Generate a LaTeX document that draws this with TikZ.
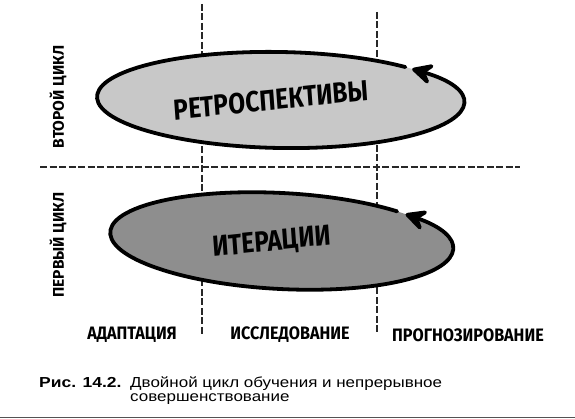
\documentclass[tikz,border=0pt]{standalone}
\usepackage{fontspec}
\setmainfont{Liberation Sans}
\newfontfamily\hand{Fira Sans}
\usetikzlibrary{arrows.meta}
\definecolor{lightfill}{RGB}{200,200,200}
\definecolor{darkfill}{RGB}{142,142,142}
\definecolor{guide}{RGB}{40,40,40}
\begin{document}
\begin{tikzpicture}[x=1pt,y=1pt,
  guideline/.style={draw=guide,line width=1.1pt,dash pattern=on 7pt off 2.5pt},
  loop/.style={draw=black,line width=3.8pt,line cap=round,
     -{Stealth[length=27pt,width=27pt,inset=11pt,round]}},
  bigtext/.style={font=\hand\bfseries\fontsize{29}{29}\selectfont,xscale=0.84,rotate=5},
  sidetext/.style={font=\hand\bfseries\fontsize{15.5}{15.5}\selectfont,rotate=90},
  axistext/.style={font=\hand\bfseries\fontsize{18}{18}\selectfont,xscale=0.9},
  captext/.style={font=\fontsize{14.5}{14.5}\selectfont,anchor=base west,inner sep=0pt,xscale=1.17}]
\useasboundingbox (0,0) rectangle (575,419);
% guide lines
\coordinate (v1t) at (202,415); \coordinate (v1b) at (202,84);
\coordinate (v2t) at (377,407); \coordinate (v2b) at (377,87);
\coordinate (hl) at (40,252); \coordinate (hr) at (520,252);
\draw[guideline] (v1t) -- (v1b);
\draw[guideline] (v2t) -- (v2b);
\draw[guideline] (hl) -- (hr);
% top loop
\begin{scope}[shift={(280,319)},rotate=-1]
  \fill[lightfill] (0,0) ellipse[x radius=183pt,y radius=48pt];
  \draw[loop] (47:183pt and 48pt) arc[start angle=47,end angle=404,x radius=183pt,y radius=48pt];
\end{scope}
% bottom loop
\begin{scope}[shift={(281,178)},rotate=-3]
  \fill[darkfill] (0,0) ellipse[x radius=171pt,y radius=48pt];
  \draw[loop] (48:171pt and 48pt) arc[start angle=48,end angle=404,x radius=171pt,y radius=48pt];
\end{scope}
\node[bigtext] (retro) at (271,319) {РЕТРОСПЕКТИВЫ};
\node[bigtext] (iter) at (272,176) {ИТЕРАЦИИ};
\node[sidetext] (second) at (58,322) {ВТОРОЙ ЦИКЛ};
\node[sidetext] (first) at (58,174) {ПЕРВЫЙ ЦИКЛ};
\node[axistext] (adapt) at (132,84) {АДАПТАЦИЯ};
\node[axistext] (explore) at (290,84) {ИССЛЕДОВАНИЕ};
\node[axistext] (forecast) at (468,84) {ПРОГНОЗИРОВАНИЕ};
% caption
\node[captext,xscale=1.03] (fig) at (39,31.3) {\bfseries Рис. 14.2.};
\node[captext] (cap1) at (130,31.3) {Двойной цикл обучения и непрерывное};
\node[captext] (cap2) at (130,17) {совершенствование};
\coordinate (rl) at (0,1.5); \coordinate (rr) at (575,1.5);
\draw[draw=guide!80,line width=1.6pt] (rl) -- (rr);
\end{tikzpicture}
\end{document}
